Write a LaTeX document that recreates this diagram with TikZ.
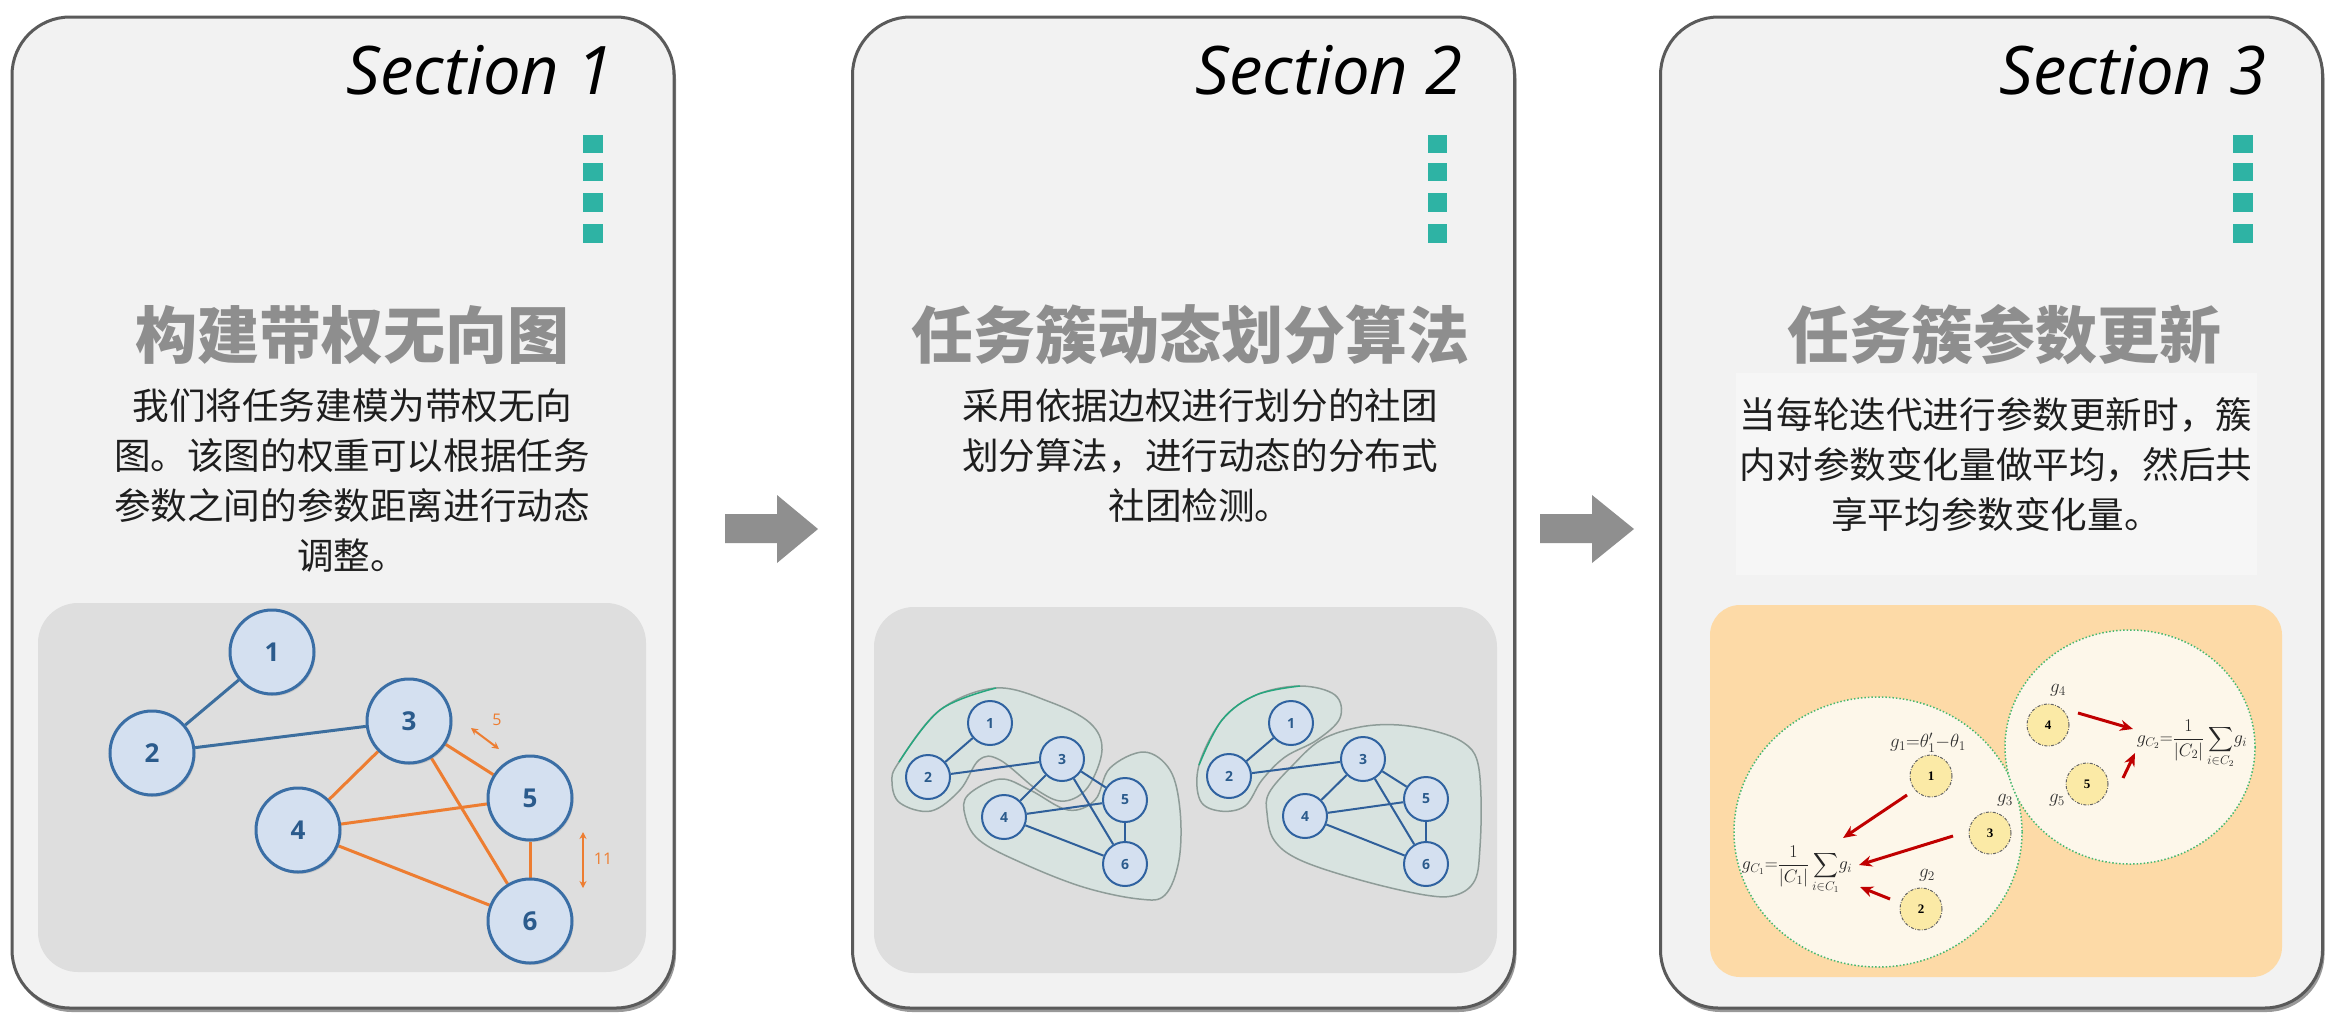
\RequirePackage{fix-cm}
\documentclass[tikz,border=0pt]{standalone}
\usepackage{amsmath}
\usepackage{fontspec}
\setmainfont{Open Sans}
\newfontfamily\cjk{Noto Sans CJK SC}
\newfontfamily\serif{Liberation Serif}
\usetikzlibrary{shadows,arrows.meta}
\definecolor{panelfill}{HTML}{F2F2F2}
\definecolor{panelborder}{HTML}{5A5A5A}
\definecolor{innergray}{HTML}{DEDEDE}
\definecolor{teal}{HTML}{2EB3A4}
\definecolor{titlegray}{HTML}{8E8E8E}
\definecolor{desctext}{HTML}{1E1E1E}
\definecolor{nodefill}{HTML}{D4E0F0}
\definecolor{nodeblue}{HTML}{3A6EA5}
\definecolor{nodeblue2}{HTML}{2F62A0}
\definecolor{numblue}{HTML}{2B5B8C}
\definecolor{edgeblue}{HTML}{3C6E9E}
\definecolor{edgeblue2}{HTML}{2F5F9A}
\definecolor{edgeorange}{HTML}{ED7D31}
\definecolor{blobfill}{HTML}{D8E5E1}
\definecolor{blobline}{HTML}{8E9C98}
\definecolor{blobgreen}{HTML}{27A67E}
\definecolor{peach}{HTML}{FDDAA7}
\definecolor{cream}{HTML}{FDF7EA}
\definecolor{yel}{HTML}{FBEAA6}
\definecolor{dotgreen}{HTML}{48B870}
\definecolor{redarrow}{HTML}{C00000}
\definecolor{arrowgray}{HTML}{8F8F8F}
\definecolor{faint}{HTML}{F6F6F6}
\pgfdeclarelayer{back}
\pgfdeclarelayer{mid}
\pgfsetlayers{back,mid,main}
\begin{document}
\begin{tikzpicture}[x=1pt,y=-1pt,
  panel/.style={draw=panelborder, line width=3pt, fill=panelfill, rounded corners=58pt,
    minimum width=662pt, minimum height=991pt, inner sep=0,
    drop shadow={shadow xshift=2pt, shadow yshift=-4pt, opacity=0.4, fill=black}},
  sectext/.style={anchor=base east, inner sep=0, font=\fontsize{67}{70}\selectfont\itshape, text=black},
  titletext/.style={inner sep=0, font=\cjk\bfseries\fontsize{62}{70}\selectfont, text=titlegray},
  desctextstyle/.style={inner sep=0, align=center, font=\cjk\fontsize{36.6}{50}\selectfont, text=desctext},
  gnA/.style={circle, draw=nodeblue, line width=3pt, fill=nodefill, minimum size=84pt, inner sep=0,
    font=\fontsize{26}{26}\selectfont\bfseries, text=numblue,
    drop shadow={shadow xshift=1.5pt, shadow yshift=-2pt, opacity=0.25}},
  gnB/.style={circle, draw=nodeblue2, line width=2pt, fill=nodefill, minimum size=44pt, inner sep=0,
    font=\fontsize{14}{14}\selectfont\bfseries, text=numblue},
  gnC/.style={circle, draw=black!60, line width=1pt, dash pattern=on 3pt off 1.5pt on 0.8pt off 1.5pt,
    fill=yel, minimum size=42pt, inner sep=0, font=\serif\bfseries\fontsize{13}{13}\selectfont},
  eblue/.style={draw=edgeblue, line width=3pt},
  eorange/.style={draw=edgeorange, line width=3pt},
  eblueB/.style={draw=edgeblue2, line width=2pt},
  dimarrow/.style={draw=edgeorange, line width=2pt, {Stealth[length=7pt,width=7pt]}-{Stealth[length=7pt,width=7pt]}},
  dimlabel/.style={inner sep=0, text=edgeorange, font=\fontsize{16}{16}\selectfont},
  blob/.style={fill=blobfill, fill opacity=0.85},
  blobedge/.style={draw=blobline, line width=1.5pt},
  greenedge/.style={draw=blobgreen, line width=1.5pt},
  bigc/.style={fill=cream, draw=dotgreen, line width=1.5pt, dotted},
  redarr/.style={draw=redarrow, line width=3pt, -{Stealth[length=13pt,width=11pt]}},
  mlabel/.style={inner sep=0, text=black!80, font=\fontsize{19}{22}\selectfont},
  formula/.style={inner sep=0, text=black!85, font=\fontsize{18}{22}\selectfont}
]
\useasboundingbox (0,0) rectangle (2332,1029);

\begin{pgfonlayer}{back}
\fill[white] (0,0) rectangle (2332,1029);
% panels
\node[panel] (p1) at (343,512.5) {};
\node[panel] (p2) at (1183.5,512.5) {};
\node[panel] (p3) at (1991.5,512.5) {};
% inner areas
\fill[innergray, rounded corners=40pt] (38,603) rectangle (646,972);
\fill[innergray, rounded corners=40pt] (874,607) rectangle (1497,973);
\fill[faint] (1736,373) rectangle (2257,575);
\fill[peach, rounded corners=30pt] (1710,605) rectangle (2282,977);
% teal marks
\foreach \xa/\xb in {583/603, 1428/1447, 2233/2253}{
  \fill[teal] (\xa,135) rectangle (\xb,153);
  \fill[teal] (\xa,163) rectangle (\xb,181);
  \fill[teal] (\xa,193) rectangle (\xb,212);
  \fill[teal] (\xa,224) rectangle (\xb,243);
}
% blobs section 2
\fill[blob] plot[smooth cycle, tension=0.6] coordinates {(899,762) (940,710) (996,688) (1050,702) (1090,723) (1102,750) (1088,787) (1065,801) (1040,792) (1000,760) (979,760) (960,790) (931,811) (900,803) (892,782)};
\fill[blob] plot[smooth cycle, tension=0.6] coordinates {(968,795) (1000,779) (1030,790) (1068,810) (1095,800) (1110,768) (1144,752) (1170,770) (1180,810) (1179,860) (1165,895) (1139,899) (1083,887) (1022,863) (979,840) (965,815)};
\fill[blob] plot[smooth cycle, tension=0.6] coordinates {(1199,765) (1222,720) (1256,695) (1300,686) (1335,695) (1340,718) (1317,740) (1285,757) (1262,780) (1245,806) (1220,811) (1200,800)};
\fill[blob] plot[smooth cycle, tension=0.6] coordinates {(1269,793) (1291,767) (1321,740) (1360,727) (1399,725) (1438,732) (1464,743) (1477,760) (1481,797) (1480,847) (1475,880) (1456,895) (1425,895) (1360,880) (1300,860) (1274,840) (1267,813)};
\draw[blobedge] plot[smooth cycle, tension=0.6] coordinates {(899,762) (940,710) (996,688) (1050,702) (1090,723) (1102,750) (1088,787) (1065,801) (1040,792) (1000,760) (979,760) (960,790) (931,811) (900,803) (892,782)};
\draw[blobedge] plot[smooth cycle, tension=0.6] coordinates {(968,795) (1000,779) (1030,790) (1068,810) (1095,800) (1110,768) (1144,752) (1170,770) (1180,810) (1179,860) (1165,895) (1139,899) (1083,887) (1022,863) (979,840) (965,815)};
\draw[blobedge] plot[smooth cycle, tension=0.6] coordinates {(1199,765) (1222,720) (1256,695) (1300,686) (1335,695) (1340,718) (1317,740) (1285,757) (1262,780) (1245,806) (1220,811) (1200,800)};
\draw[blobedge] plot[smooth cycle, tension=0.6] coordinates {(1269,793) (1291,767) (1321,740) (1360,727) (1399,725) (1438,732) (1464,743) (1477,760) (1481,797) (1480,847) (1475,880) (1456,895) (1425,895) (1360,880) (1300,860) (1274,840) (1267,813)};
\draw[greenedge] plot[smooth, tension=0.6] coordinates {(899,762) (940,710) (996,688)};
\draw[greenedge] plot[smooth, tension=0.6] coordinates {(1199,765) (1222,720) (1256,695) (1300,686)};
% cluster circles section 3
\draw[bigc] (1878,832) ellipse (144 and 135);
\draw[bigc] (2130,747) ellipse (125 and 117);
% arrows between panels
\fill[arrowgray] (725,514) -- (777,514) -- (777,495) -- (818,529) -- (777,563) -- (777,543) -- (725,543) -- cycle;
\fill[arrowgray] (1540,514) -- (1592,514) -- (1592,495) -- (1634,529) -- (1592,563) -- (1592,543) -- (1540,543) -- cycle;
\end{pgfonlayer}

% headings
\node[sectext] (s1) at (614,94) {Section 1};
\node[sectext] (s2) at (1463,94) {Section 2};
\node[sectext] (s3) at (2267,94) {Section 3};
\node[titletext] (t1) at (352,335) {构建带权无向图};
\node[titletext] (t2) at (1190,335) {任务簇动态划分算法};
\node[titletext] (t3) at (2004,335) {任务簇参数更新};
\node[desctextstyle] (d1) at (352,481) {我们将任务建模为带权无向\\图。该图的权重可以根据任务\\参数之间的参数距离进行动态\\调整。};
\node[desctextstyle] (d2) at (1200,456) {采用依据边权进行划分的社团\\划分算法，进行动态的分布式\\社团检测。};
\node[desctextstyle] (d3) at (1996,465) {当每轮迭代进行参数更新时，簇\\内对参数变化量做平均，然后共\\享平均参数变化量。};

% section 1 graph
\node[gnA] (a1) at (272,652) {1};
\node[gnA] (a2) at (152,753) {2};
\node[gnA] (a3) at (409,721) {3};
\node[gnA] (a4) at (298,830) {4};
\node[gnA] (a5) at (530,798) {5};
\node[gnA] (a6) at (530,921) {6};
\coordinate (m1a) at (471,728);
\coordinate (m1b) at (499,749);
\coordinate (m2a) at (583,832);
\coordinate (m2b) at (583,888);
\node[dimlabel] (l5) at (497,720) {5};
\node[dimlabel] (l11) at (603,859) {11};

% section 2 graphs
\node[gnB] (b1) at (990,723) {1};
\node[gnB] (b2) at (928,777) {2};
\node[gnB] (b3) at (1062,759) {3};
\node[gnB] (b4) at (1004,817) {4};
\node[gnB] (b5) at (1125,800) {5};
\node[gnB] (b6) at (1125,864) {6};
\node[gnB] (c1) at (1291,723) {1};
\node[gnB] (c2) at (1229,776) {2};
\node[gnB] (c3) at (1363,759) {3};
\node[gnB] (c4) at (1305,816) {4};
\node[gnB] (c5) at (1426,799) {5};
\node[gnB] (c6) at (1426,864) {6};

% section 3
\node[gnC] (y1) at (1931,776) {1};
\node[gnC] (y3) at (1990,833) {3};
\node[gnC] (y2) at (1921,909) {2};
\node[gnC] (y4) at (2048,725) {4};
\node[gnC] (y5) at (2087,784) {5};
\node[mlabel] (g1) at (1928,743) {$g_1{=}\theta'_1{-}\theta_1$};
\node[mlabel] (g3) at (2005,800) {$g_3$};
\node[mlabel] (g2) at (1927,875) {$g_2$};
\node[mlabel] (g4) at (2058,690) {$g_4$};
\node[mlabel] (g5) at (2057,800) {$g_5$};
\node[formula] (f1) at (1797,870) {$\displaystyle g_{C_1}{=}\frac{1}{|C_1|}\sum_{i\in C_1}\!g_i$};
\node[formula] (f2) at (2192,744) {$\displaystyle g_{C_2}{=}\frac{1}{|C_2|}\sum_{i\in C_2}\!g_i$};
\coordinate (r1s) at (1907,795); \coordinate (r1e) at (1843,838);
\coordinate (r2s) at (1953,836); \coordinate (r2e) at (1859,865);
\coordinate (r3s) at (1890,899); \coordinate (r3e) at (1860,887);
\coordinate (r4s) at (2078,713); \coordinate (r4e) at (2133,729);
\coordinate (r5s) at (2123,778); \coordinate (r5e) at (2135,753);

\begin{pgfonlayer}{mid}
\draw[eblue] (a1) -- (a2);
\draw[eblue] (a2) -- (a3);
\draw[eorange] (a3) -- (a4);
\draw[eorange] (a3) -- (a5);
\draw[eorange] (a3) -- (a6);
\draw[eorange] (a4) -- (a5);
\draw[eorange] (a4) -- (a6);
\draw[eorange] (a5) -- (a6);
\draw[dimarrow] (m1a) -- (m1b);
\draw[dimarrow] (m2a) -- (m2b);
\foreach \p in {b,c}{
  \draw[eblueB] (\p1) -- (\p2);
  \draw[eblueB] (\p2) -- (\p3);
  \draw[eblueB] (\p3) -- (\p4);
  \draw[eblueB] (\p3) -- (\p5);
  \draw[eblueB] (\p3) -- (\p6);
  \draw[eblueB] (\p4) -- (\p5);
  \draw[eblueB] (\p4) -- (\p6);
  \draw[eblueB] (\p5) -- (\p6);
}
\draw[redarr] (r1s) -- (r1e);
\draw[redarr] (r2s) -- (r2e);
\draw[redarr] (r3s) -- (r3e);
\draw[redarr] (r4s) -- (r4e);
\draw[redarr] (r5s) -- (r5e);
\end{pgfonlayer}
\end{tikzpicture}
\end{document}
